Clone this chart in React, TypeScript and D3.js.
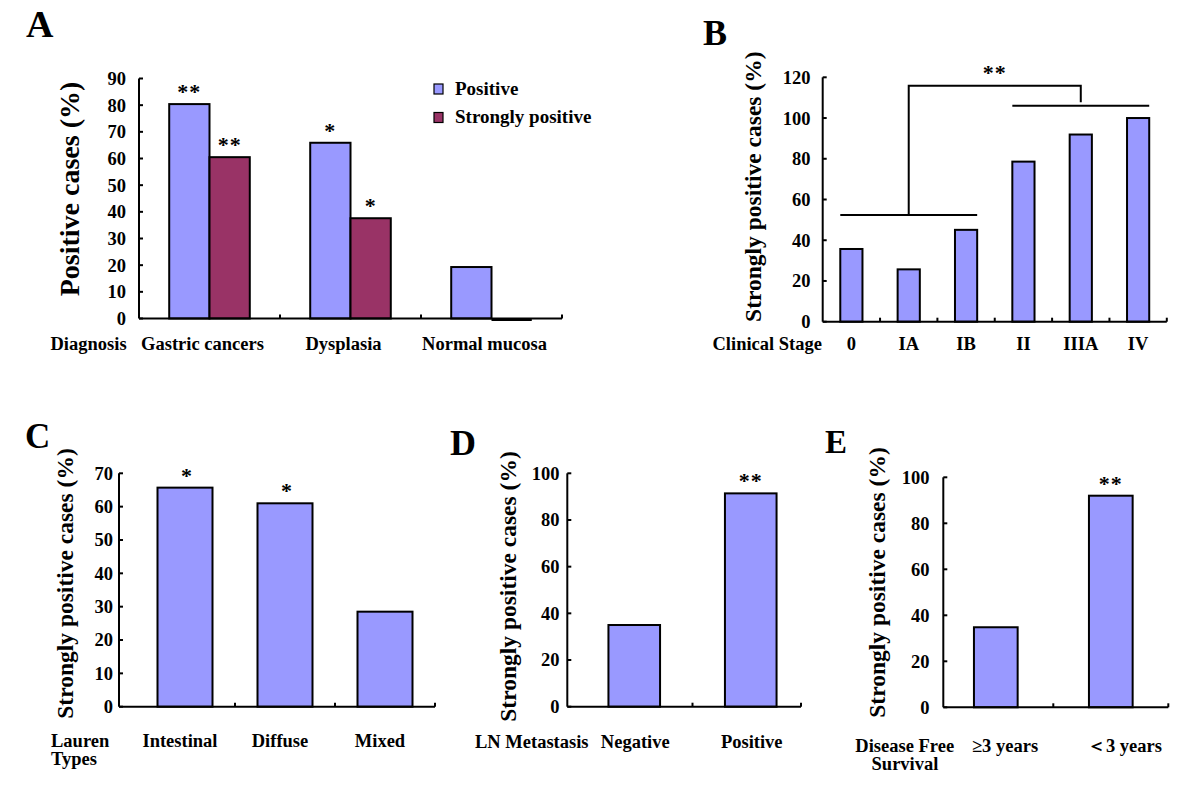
import React from "react";
import * as d3 from "d3";

// ---------- Data ----------
const diagnosisCategories = ["Gastric cancers", "Dysplasia", "Normal mucosa"];
const diagnosisSeries = ["Positive", "Strongly positive"];
const positiveValues = [80.4, 65.9, 19.3];
const stronglyPositiveValues = [60.5, 37.6, 0];
const positiveStars = ["**", "*", ""];
const stronglyPositiveStars = ["**", "*", ""];
const ticksA = [0, 10, 20, 30, 40, 50, 60, 70, 80, 90];

const stageCategories = ["0", "IA", "IB", "II", "IIIA", "IV"];
const stageValues = [35.7, 25.7, 45.1, 78.6, 91.9, 100];
const stageLowGroup = ["0", "IA", "IB"];
const stageHighGroup = ["II", "IIIA", "IV"];
const bracketLevels = { low: 52.4, top: 115.8, drop: 107.8, high: 106 };
const ticksB = [0, 20, 40, 60, 80, 100, 120];

const laurenCategories = ["Intestinal", "Diffuse", "Mixed"];
const laurenValues = [65.7, 61.0, 28.5];
const laurenStars = ["*", "*", ""];
const ticksC = [0, 10, 20, 30, 40, 50, 60, 70];

const lnCategories = ["Negative", "Positive"];
const lnValues = [35.0, 91.4];
const lnStars = ["", "**"];
const ticksD = [0, 20, 40, 60, 80, 100];

const dfsCategories = ["≥3 years", "＜3 years"];
const dfsValues = [34.8, 92.0];
const dfsStars = ["", "**"];
const ticksE = [0, 20, 40, 60, 80, 100];

// ---------- Style ----------
const FONT = '"Liberation Serif", "Times New Roman", "DejaVu Serif", Tinos, serif';
const BLUE = "#9999FF";
const MAROON = "#993366";
const AX = 2;

const textStyle = (size: number): React.CSSProperties => ({
  fontFamily: FONT,
  fontWeight: 700,
  fontSize: `${size}px`,
});

type YAxisProps = {
  x: number;
  y: d3.ScaleLinear<number, number>;
  ticks: number[];
  labelX: number;
  fontSize: number;
};
function YAxis({ x, y, ticks, labelX, fontSize }: YAxisProps) {
  const [d0, d1] = y.domain();
  return (
    <g>
      <line x1={x} x2={x} y1={y(d0)} y2={y(d1)} stroke="#000" strokeWidth={AX} />
      {ticks.map((t) => (
        <g key={t}>
          <line x1={x} x2={x + 4} y1={y(t)} y2={y(t)} stroke="#000" strokeWidth={AX} />
          <text x={labelX} y={y(t)} dy="0.35em" textAnchor="end" style={textStyle(fontSize)}>
            {t}
          </text>
        </g>
      ))}
    </g>
  );
}

type XAxisProps = { x0: number; x1: number; y: number; ticks: number[] };
function XAxis({ x0, x1, y, ticks }: XAxisProps) {
  return (
    <g>
      <line x1={x0} x2={x1} y1={y} y2={y} stroke="#000" strokeWidth={AX} />
      {ticks.map((t, i) => (
        <line key={i} x1={t} x2={t} y1={y} y2={y - 4} stroke="#000" strokeWidth={AX} />
      ))}
    </g>
  );
}

function T(props: any) {
  const { children, size = 18.5, ...rest } = props;
  return (
    <text style={textStyle(size)} {...rest}>
      {children}
    </text>
  );
}

function VTitle({ x, y, size, text }: { x: number; y: number; size: number; text: string }) {
  return (
    <text
      transform={`translate(${x},${y}) rotate(-90)`}
      textAnchor="middle"
      dominantBaseline="central"
      style={textStyle(size)}
    >
      {text}
    </text>
  );
}

function Bar({ x, w, yTop, yBase, fill }: { x: number; w: number; yTop: number; yBase: number; fill: string }) {
  const h = yBase - yTop;
  if (h < 1) {
    return <line x1={x} x2={x + w} y1={yBase + 1} y2={yBase + 1} stroke="#000" strokeWidth={3} />;
  }
  return <rect x={x} y={yTop} width={w} height={h} fill={fill} stroke="#000" strokeWidth={2} />;
}

function Star({ x, y, s }: { x: number; y: number; s: string }) {
  if (!s) return null;
  return (
    <text x={x} y={y - 5} textAnchor="middle" style={{ ...textStyle(22), letterSpacing: "1px" }}>
      {s}
    </text>
  );
}

function PanelA() {
  const y = d3.scaleLinear().domain([0, 90]).range([318.5, 78.5]);
  const x = d3.scaleBand<string>().domain(diagnosisCategories).range([139, 562]);
  const xi = d3.scaleBand<string>().domain(diagnosisSeries).range([0, x.bandwidth()]).paddingOuter(0.75);
  const series = [
    { name: diagnosisSeries[0], values: positiveValues, stars: positiveStars, color: BLUE },
    { name: diagnosisSeries[1], values: stronglyPositiveValues, stars: stronglyPositiveStars, color: MAROON },
  ];
  const boundaries = diagnosisCategories.map((c) => (x(c) as number) + x.step());
  return (
    <g>
      <T x={26} y={37} size={38}>A</T>
      <VTitle x={69.5} y={189} size={28} text="Positive cases (%)" />
      {series.map((s) =>
        diagnosisCategories.map((c, i) => {
          const bx = (x(c) as number) + (xi(s.name) as number);
          return (
            <g key={s.name + c}>
              <Bar x={bx} w={xi.bandwidth()} yTop={y(s.values[i])} yBase={y(0)} fill={s.color} />
              <Star x={bx + xi.bandwidth() / 2} y={y(s.values[i])} s={s.stars[i]} />
            </g>
          );
        })
      )}
      <YAxis x={139} y={y} ticks={ticksA} labelX={126} fontSize={18.5} />
      <XAxis x0={139} x1={562} y={y(0)} ticks={boundaries} />
      {series.map((s, i) => (
        <g key={s.name}>
          <rect x={434} y={84 + i * 28.5} width={9} height={10} fill={s.color} stroke="#000" strokeWidth={1.2} />
          <T x={455} y={94.5 + i * 28} size={19}>{s.name}</T>
        </g>
      ))}
      <T x={50.5} y={349.5}>Diagnosis</T>
      {diagnosisCategories.map((c) => (
        <T key={c} x={(x(c) as number) + x.bandwidth() / 2 - 7} y={349.5} textAnchor="middle">
          {c}
        </T>
      ))}
    </g>
  );
}

function PanelB() {
  const y = d3.scaleLinear().domain([0, 120]).range([321.7, 77.3]);
  const x = d3.scaleBand<string>().domain(stageCategories).range([822.7, 1166.8]).paddingInner(0.613).paddingOuter(0.3065);
  const step = x.step();
  const start = 822.7;
  const boundaries = stageCategories.map((_, i) => start + (i + 1) * step);
  const cx = (c: string) => (x(c) as number) + x.bandwidth() / 2;
  const lowX0 = x(stageLowGroup[0]) as number;
  const lowX1 = (x(stageLowGroup[stageLowGroup.length - 1]) as number) + x.bandwidth();
  const highX0 = x(stageHighGroup[0]) as number;
  const highX1 = (x(stageHighGroup[stageHighGroup.length - 1]) as number) + x.bandwidth();
  const vL = cx(stageLowGroup[1]);
  const vR = cx(stageHighGroup[1]);
  const bracket = [
    `M${vL},${y(bracketLevels.low)}`,
    `V${y(bracketLevels.top)}`,
    `H${vR}`,
    `V${y(bracketLevels.drop)}`,
  ].join("");
  return (
    <g>
      <T x={703} y={45} size={36}>B</T>
      <VTitle x={753.2} y={186.7} size={23.5} text="Strongly positive cases (%)" />
      {stageCategories.map((c, i) => (
        <Bar key={c} x={x(c) as number} w={x.bandwidth()} yTop={y(stageValues[i])} yBase={y(0)} fill={BLUE} />
      ))}
      <YAxis x={start} y={y} ticks={ticksB} labelX={810.5} fontSize={18.5} />
      <XAxis x0={start} x1={1166.8} y={y(0)} ticks={boundaries} />
      <line x1={lowX0} x2={lowX1} y1={y(bracketLevels.low)} y2={y(bracketLevels.low)} stroke="#000" strokeWidth={2} />
      <line x1={highX0} x2={highX1} y1={y(bracketLevels.high)} y2={y(bracketLevels.high)} stroke="#000" strokeWidth={2} />
      <path d={bracket} fill="none" stroke="#000" strokeWidth={2} />
      <Star x={(vL + vR) / 2} y={y(bracketLevels.top) - 1} s="**" />
      <T x={712.5} y={350}>Clinical Stage</T>
      {stageCategories.map((c) => (
        <T key={c} x={cx(c)} y={350} textAnchor="middle">
          {c}
        </T>
      ))}
    </g>
  );
}

function PanelC() {
  const y = d3.scaleLinear().domain([0, 70]).range([706.7, 473.3]);
  const x = d3.scaleBand<string>().domain(laurenCategories).range([135, 435]).paddingInner(0.45).paddingOuter(0.225);
  const boundaries = laurenCategories.map((_, i) => 135 + (i + 1) * x.step());
  const cx = (c: string) => (x(c) as number) + x.bandwidth() / 2;
  return (
    <g>
      <T x={25} y={448} size={35}>C</T>
      <VTitle x={65} y={583.5} size={23.5} text="Strongly positive cases (%)" />
      {laurenCategories.map((c, i) => (
        <g key={c}>
          <Bar x={x(c) as number} w={x.bandwidth()} yTop={y(laurenValues[i])} yBase={y(0)} fill={BLUE} />
          <Star x={cx(c) + 2} y={y(laurenValues[i])} s={laurenStars[i]} />
        </g>
      ))}
      <YAxis x={119} y={y} ticks={ticksC} labelX={113} fontSize={18.5} />
      <XAxis x0={119} x1={435} y={y(0)} ticks={boundaries} />
      <T x={51} y={746.7}>Lauren</T>
      <T x={51} y={765}>Types</T>
      {laurenCategories.map((c) => (
        <T key={c} x={cx(c) - 5} y={747} textAnchor="middle">
          {c}
        </T>
      ))}
    </g>
  );
}

function PanelD() {
  const y = d3.scaleLinear().domain([0, 100]).range([706.7, 473.3]);
  const x = d3.scaleBand<string>().domain(lnCategories).range([576, 809]).paddingInner(0.557).paddingOuter(0.2785);
  const cx = (c: string) => (x(c) as number) + x.bandwidth() / 2;
  const boundaries = [576 + x.step(), 801];
  return (
    <g>
      <T x={450} y={455} size={36}>D</T>
      <VTitle x={508.3} y={586.5} size={23.5} text="Strongly positive cases (%)" />
      {lnCategories.map((c, i) => (
        <g key={c}>
          <Bar x={x(c) as number} w={x.bandwidth()} yTop={y(lnValues[i])} yBase={y(0)} fill={BLUE} />
          <Star x={cx(c)} y={y(lnValues[i])} s={lnStars[i]} />
        </g>
      ))}
      <YAxis x={567.3} y={y} ticks={ticksD} labelX={559.5} fontSize={18.5} />
      <XAxis x0={567.3} x1={801} y={y(0)} ticks={boundaries} />
      <T x={475} y={748.3}>LN Metastasis</T>
      {lnCategories.map((c) => (
        <T key={c} x={cx(c) + 1} y={747.5} textAnchor="middle">
          {c}
        </T>
      ))}
    </g>
  );
}

function PanelE() {
  const y = d3.scaleLinear().domain([0, 100]).range([707.3, 477.3]);
  const x = d3.scaleBand<string>().domain(dfsCategories).range([938.3, 1168.3]).paddingInner(0.62).paddingOuter(0.31);
  const cx = (c: string) => (x(c) as number) + x.bandwidth() / 2;
  const boundaries = [938.3 + x.step(), 1168.3];
  return (
    <g>
      <T x={825} y={453} size={33}>E</T>
      <VTitle x={876.7} y={582.5} size={23.5} text="Strongly positive cases (%)" />
      {dfsCategories.map((c, i) => (
        <g key={c}>
          <Bar x={x(c) as number} w={x.bandwidth()} yTop={y(dfsValues[i])} yBase={y(0)} fill={BLUE} />
          <Star x={cx(c)} y={y(dfsValues[i])} s={dfsStars[i]} />
        </g>
      ))}
      <YAxis x={943.3} y={y} ticks={ticksE} labelX={929.5} fontSize={18.5} />
      <XAxis x0={943.3} x1={1168.3} y={y(0)} ticks={boundaries} />
      <T x={904.7} y={751.7} textAnchor="middle">Disease Free</T>
      <T x={905} y={770} textAnchor="middle">Survival</T>
      {dfsCategories.map((c) => (
        <T key={c} x={(x(c) as number) - 2} y={752}>
          {c}
        </T>
      ))}
    </g>
  );
}

export default function App() {
  return (
    <svg
      width={1200}
      height={793}
      viewBox="0 0 1200 793"
      style={{ position: "absolute", left: 0, top: 0, background: "#fff" }}
    >
      <rect width={1200} height={793} fill="#fff" />
      <PanelA />
      <PanelB />
      <PanelC />
      <PanelD />
      <PanelE />
    </svg>
  );
}
